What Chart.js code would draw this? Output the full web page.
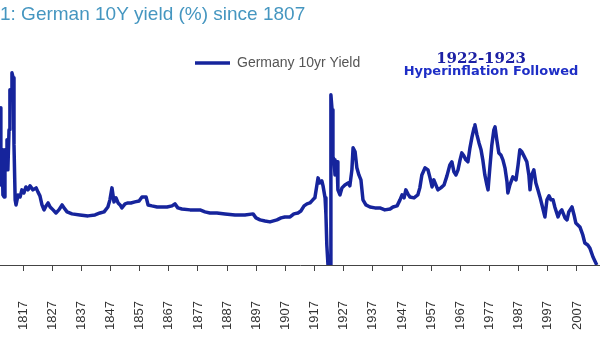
<!DOCTYPE html>
<html>
<head>
<meta charset="utf-8">
<script src="https://cdn.jsdelivr.net/npm/chart.js@4.4.1/dist/chart.umd.min.js"></script>
<style>
  html, body { margin: 0; padding: 0; background: #ffffff; }
  canvas { display: block; }
</style>
</head>
<body>
<canvas id="yieldChart" width="600" height="337"></canvas>
<script>
// German 10Y yield (%)
const years = [
  1809.1, 1809.4, 1809.8, 1810.1, 1810.5, 1810.8, 1811.2, 1811.5, 1811.8, 1812.2,
  1812.5, 1812.9, 1813.2, 1813.6, 1813.9, 1814.3, 1814.6, 1815.3, 1816.0, 1816.6,
  1817.3, 1818.0, 1818.7, 1819.4, 1820.4, 1821.5, 1822.1, 1822.8, 1823.5, 1824.2,
  1824.9, 1825.6, 1826.3, 1827.3, 1828.3, 1829.3, 1830.4, 1831.1, 1832.1, 1833.8,
  1836.5, 1839.3, 1841.7, 1843.4, 1844.8, 1846.1, 1846.8, 1847.5, 1848.2, 1848.9,
  1849.6, 1850.3, 1850.9, 1852.0, 1853.0, 1854.0, 1855.4, 1856.8, 1857.8, 1859.2,
  1859.9, 1861.2, 1863.0, 1864.7, 1866.4, 1868.1, 1869.1, 1870.1, 1871.5, 1874.3,
  1877.7, 1879.4, 1881.1, 1883.5, 1886.3, 1889.7, 1893.1, 1895.9, 1896.9, 1898.3,
  1900.0, 1901.7, 1904.1, 1905.5, 1906.8, 1908.6, 1909.9, 1911.3, 1912.3, 1913.4,
  1914.4, 1915.4, 1916.4, 1917.1, 1917.8, 1918.2, 1918.8, 1919.5, 1919.9, 1920.6,
  1920.9, 1921.2, 1921.6, 1922.3, 1922.6, 1923.0, 1923.3, 1923.7, 1924.0, 1924.7,
  1925.0, 1925.7, 1926.4, 1927.4, 1928.5, 1929.1, 1929.8, 1930.2, 1930.9, 1931.5,
  1932.2, 1932.9, 1933.6, 1934.6, 1936.0, 1937.7, 1939.4, 1941.1, 1942.9, 1943.9,
  1945.3, 1946.3, 1947.0, 1947.7, 1948.3, 1949.0, 1949.7, 1951.1, 1952.4, 1953.1,
  1953.8, 1954.9, 1955.9, 1956.6, 1957.3, 1957.9, 1958.6, 1959.3, 1960.3, 1961.4,
  1962.4, 1963.4, 1964.1, 1964.8, 1965.5, 1966.2, 1966.9, 1967.5, 1968.2, 1968.9,
  1969.6, 1970.3, 1971.0, 1971.7, 1972.0, 1972.7, 1973.4, 1974.1, 1974.7, 1975.4,
  1976.1, 1976.5, 1977.2, 1977.8, 1978.5, 1978.9, 1979.5, 1980.2, 1980.9, 1981.6,
  1982.3, 1983.0, 1983.3, 1984.0, 1985.0, 1986.1, 1986.8, 1987.4, 1988.1, 1988.8,
  1989.8, 1990.5, 1990.9, 1991.5, 1992.2, 1992.9, 1993.6, 1994.3, 1995.0, 1996.0,
  1996.7, 1997.4, 1998.1, 1998.8, 1999.4, 2000.5, 2001.2, 2001.8, 2002.9, 2003.6,
  2004.2, 2005.3, 2006.0, 2006.6, 2008.0, 2009.0, 2009.7, 2010.7, 2011.4, 2012.5,
  2013.8
];

const yields = [
  11.78, 6.0, 8.63, 5.25, 5.1, 8.63, 7.5, 9.38, 7.13, 10.13,
  13.13, 12.38, 14.4, 14.03, 9.0, 4.88, 4.5, 5.25, 5.1, 5.63,
  5.4, 5.85, 5.63, 5.93, 5.63, 5.78, 5.48, 5.18, 4.5, 4.13,
  4.43, 4.65, 4.35, 4.13, 3.9, 4.13, 4.5, 4.28, 3.98, 3.83,
  3.75, 3.68, 3.75, 3.9, 3.98, 4.35, 4.88, 5.78, 4.73, 5.03,
  4.65, 4.5, 4.28, 4.58, 4.65, 4.65, 4.73, 4.8, 5.1, 5.1,
  4.5, 4.43, 4.35, 4.35, 4.35, 4.43, 4.58, 4.28, 4.2, 4.13,
  4.13, 3.98, 3.9, 3.9, 3.83, 3.75, 3.75, 3.83, 3.53, 3.38,
  3.3, 3.23, 3.38, 3.53, 3.6, 3.6, 3.83, 3.9, 4.05, 4.43,
  4.58, 4.65, 4.88, 5.03, 6.0, 6.53, 6.15, 6.3, 5.93, 5.03,
  3.75, 1.5, 0, 0, 12.75, 11.63, 8.1, 7.88, 6.75, 7.73,
  5.63, 5.25, 5.78, 6.0, 6.15, 5.93, 7.13, 8.78, 8.48, 7.28,
  6.75, 6.38, 4.88, 4.5, 4.35, 4.28, 4.28, 4.13, 4.2, 4.35,
  4.43, 4.88, 5.25, 5.03, 5.63, 5.33, 5.1, 5.03, 5.25, 5.78,
  6.75, 7.28, 7.13, 6.53, 5.85, 6.38, 6.0, 5.63, 5.78, 6.0,
  6.68, 7.5, 7.73, 6.98, 6.75, 7.13, 7.88, 8.4, 8.18, 7.88,
  7.73, 8.78, 9.6, 10.28, 10.5, 9.75, 9.15, 8.63, 7.88, 6.75,
  6.0, 5.63, 7.5, 9.0, 10.13, 10.35, 9.38, 8.4, 8.25, 7.88,
  7.28, 6.23, 5.4, 6.0, 6.6, 6.38, 7.5, 8.63, 8.48, 8.18,
  7.73, 6.75, 5.63, 6.75, 7.13, 6.15, 5.63, 5.1, 4.5, 3.6,
  4.88, 5.18, 4.88, 4.88, 4.35, 3.6, 3.98, 4.13, 3.53, 3.38,
  3.98, 4.35, 3.75, 3.15, 2.85, 2.25, 1.65, 1.5, 1.28, 0.6,
  0
];

const tickYears = [1807, 1817, 1827, 1837, 1847, 1857, 1867, 1877, 1887, 1897, 1907,
  1917, 1927, 1937, 1947, 1957, 1967, 1977, 1987, 1997, 2007];
const tickLabels = ["1807", "1817", "1827", "1837", "1847", "1857", "1867", "1877", "1887", "1897", "1907",
  "1917", "1927", "1937", "1947", "1957", "1967", "1977", "1987", "1997", "2007"];

const seriesLabel = "Germany 10yr Yield";
const titleText = "1: German 10Y yield (%) since 1807";
const noteLines = ["1922-1923", "Hyperinflation Followed"];

const lineColor = "#16249c";

Chart.defaults.font.family = "'Liberation Sans', Arial, sans-serif";

// move the legend to where the original had it
const legendPlacer = {
  id: "legendPlacer",
  afterLayout(chart) {
    const legend = chart.legend;
    const w = legend.width;
    const h = legend.height;
    legend.left = 185;
    legend.top = 46;
    legend.right = legend.left + w;
    legend.bottom = legend.top + h;
  },
};

// the blue note at top right
const notePlugin = {
  id: "hyperinflationNote",
  afterDraw(chart) {
    const ctx = chart.ctx;
    ctx.save();
    ctx.textAlign = "center";
    ctx.textBaseline = "alphabetic";
    ctx.fillStyle = "#1c20a4";
    ctx.font = "bold 15px 'DejaVu Serif', serif";
    ctx.fillText(noteLines[0], 481, 63);
    ctx.fillStyle = "#1e2ec6";
    ctx.font = "bold 13px 'DejaVu Sans', sans-serif";
    ctx.fillText(noteLines[1], 491, 74.5);
    ctx.restore();
  },
};

const yieldChart = new Chart(document.getElementById("yieldChart"), {
  type: "line",
  data: {
    datasets: [
      {
        label: seriesLabel,
        data: years.map((year, i) => ({ x: year, y: yields[i] })),
        borderColor: lineColor,
        backgroundColor: lineColor,
        borderWidth: 3.5,
        borderJoinStyle: "round",
        pointRadius: 0,
        tension: 0,
        fill: false,
      },
    ],
  },
  options: {
    responsive: false,
    animation: false,
    layout: { padding: { left: 0, right: 0, top: 0, bottom: 7 } },
    plugins: {
      title: {
        display: true,
        text: titleText,
        align: "start",
        color: "#4596c0",
        font: { size: 19, weight: "normal" },
        padding: { top: 3, bottom: 19 },
      },
      legend: {
        display: true,
        position: "chartArea",
        align: "start",
        labels: {
          usePointStyle: true,
          pointStyle: "line",
          pointStyleWidth: 35,
          color: "#555555",
          font: { size: 14 },
          padding: 10,
        },
      },
      tooltip: { enabled: false },
    },
    scales: {
      x: {
        type: "linear",
        min: 1809.1,
        max: 2014.9,
        afterBuildTicks: (scale) => {
          scale.ticks = tickYears.map((year) => ({ value: year }));
        },
        afterFit: (scale) => {
          // no side padding, and only as tall as tick + gap + label
          scale.paddingLeft = 0;
          scale.paddingRight = 0;
          scale.height = 65;
        },
        border: { display: true, color: "#444444", width: 1 },
        grid: { drawOnChartArea: false, drawTicks: true, tickLength: 6, color: "#444444" },
        ticks: {
          autoSkip: false,
          minRotation: 90,
          maxRotation: 90,
          padding: 30,
          color: "#333333",
          font: { size: 13 },
          callback: (value, index) => tickLabels[index],
        },
      },
      y: {
        display: false,
        min: 0,
        max: 16.5,
      },
    },
  },
  plugins: [legendPlacer, notePlugin],
});
</script>
</body>
</html>
